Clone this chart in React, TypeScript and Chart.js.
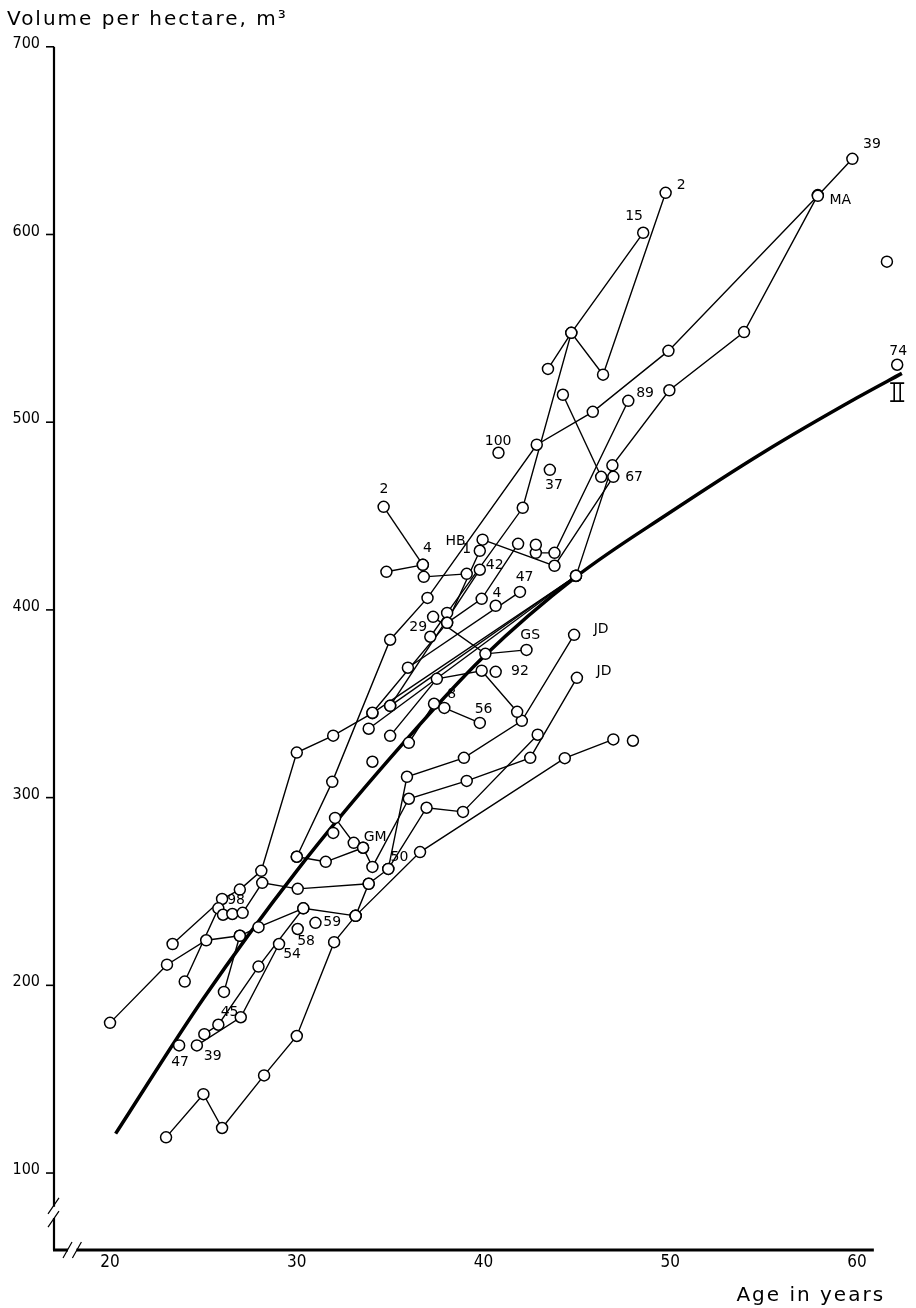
import React, { useEffect, useRef } from "react";
import { Chart, registerables } from "chart.js";
Chart.register(...registerables);

type P = [number, number];

// ---- data: [age in years, volume per hectare m3] ----
const seriesBottom: P[] = [[23.0, 119], [25.0, 142], [26.0, 124], [28.25, 152], [30.0, 173], [32.0, 223], [33.15, 237], [36.6, 271], [44.35, 321], [46.95, 331]];
const series39: P[] = [[24.65, 168], [27.0, 183], [29.05, 222]];
const series45: P[] = [[25.05, 174], [25.8, 179], [27.95, 210], [30.35, 241], [33.15, 237]];
const seriesA: P[] = [[20.0, 180], [23.05, 211], [25.15, 224], [26.95, 226.4], [27.95, 231], [30.35, 241]];
const seriesMA: P[] = [[23.35, 222], [26.0, 246], [26.95, 251], [28.1, 261], [30.0, 324], [31.95, 333], [34.05, 345], [44.95, 418], [46.9, 477], [49.95, 517], [53.95, 548], [57.9, 621]];
const series4low: P[] = [[24.0, 202], [25.8, 241], [26.05, 237.6], [26.55, 238], [27.1, 238.6], [28.15, 254.6], [30.05, 251.4], [33.85, 254.1]];
const series15low: P[] = [[26.1, 196.5], [26.95, 226.4]];
const seriesGM: P[] = [[30.0, 268.5], [31.55, 265.8], [33.55, 273.3], [34.05, 263.1], [36.0, 299.4], [39.1, 308.9], [42.5, 321.2], [45.0, 363.8]];
const seriesGM2: P[] = [[32.05, 289.2], [33.05, 275.9], [33.55, 273.3]];
const series50: P[] = [[33.15, 237], [33.85, 254.1], [34.9, 262], [35.9, 311.1], [38.95, 321.2], [42.05, 340.9], [44.85, 386.7]];
const seriesMid2: P[] = [[34.9, 262], [36.95, 294.6], [38.9, 292.4], [42.9, 333.5]];
const seriesTop39: P[] = [[30.0, 268.5], [31.9, 308.4], [35.0, 384.1], [37.0, 406.4], [42.85, 488], [45.85, 505.5], [49.9, 538], [57.9, 620.6], [59.75, 640.3]];
const series92: P[] = [[35.0, 332.9], [37.5, 363.3], [39.9, 367.6], [41.8, 345.7]];
const series56: P[] = [[36.0, 329.2], [37.35, 350], [37.9, 347.8], [39.8, 339.8]];
const series2top: P[] = [[37.15, 385.7], [38.05, 398.4], [42.1, 454.4], [44.7, 547.6], [46.4, 525.3], [49.75, 622.2]];
const series15: P[] = [[43.45, 528.4], [44.7, 547.6], [48.55, 600.9]];
const seriesGS: P[] = [[37.3, 396.3], [40.1, 376.6], [42.3, 378.7]];
const seriesHB: P[] = [[39.95, 437.4], [43.8, 423.5], [46.95, 470.9]];
const series89: P[] = [[42.8, 430.4], [43.8, 430.4], [47.75, 511.4]];
const series47: P[] = [[35.95, 369.2], [41.95, 409.6]];
const series1: P[] = [[34.05, 345.2], [38.05, 393.1], [39.8, 431.5]];
const series42: P[] = [[35.0, 348.9], [39.8, 421.4]];
const seriesB3: P[] = [[33.85, 336.7], [44.95, 418.2]];
const seriesB2: P[] = [[35.0, 348.9], [44.95, 418.2]];
const seriesX: P[] = [[38.05, 393.1], [39.9, 405.9], [41.85, 435.2]];
const series2low: P[] = [[34.65, 454.9], [36.75, 424]];
const series4: P[] = [[34.8, 420.3], [36.75, 424]];
const series4b: P[] = [[36.8, 417.6], [39.1, 419.2]];
const series67: P[] = [[44.25, 514.6], [46.3, 470.9]];

const singlePoints: P[] = [[48.0, 330.3], [23.7, 168], [30.05, 230], [31.0, 233.3], [34.05, 319.1], [40.65, 367], [40.8, 483.7], [43.55, 474.6], [61.6, 585.5], [62.15, 530.6], [40.65, 402.2], [42.8, 434.7], [31.95, 281.2]];

// site class II reference curve
const curveII: P[] = [[20.3, 121], [25, 193], [30, 261], [35, 321], [40, 375], [45, 418], [50, 452], [55, 484], [60, 513], [62.4, 526]];

const ageTicks = [20, 30, 40, 50, 60];
const volTicks = [100, 200, 300, 400, 500, 600, 700];

const labelTexts = ["98", "45", "39", "47", "54", "58", "59", "GM", "50", "8", "56", "92", "GS", "JD", "JD", "29", "4", "42", "1", "HB", "4", "2", "47", "100", "37", "67", "89", "15", "2", "MA", "39", "74"];
const labelAges = [26.75, 26.4, 25.5, 23.75, 29.75, 30.5, 31.9, 34.2, 35.5, 38.3, 40.0, 41.95, 42.5, 46.3, 46.45, 36.5, 40.72, 40.6, 39.1, 38.5, 37.0, 34.67, 42.2, 40.78, 43.77, 48.06, 48.65, 48.06, 50.58, 59.1, 60.8, 62.2];
const labelVols = [245.5, 185.7, 162, 158.7, 216.3, 223.2, 233.3, 279, 268, 354.8, 346.8, 367, 386.7, 389.9, 367, 390.5, 408.6, 423.5, 432, 436.3, 432.6, 464, 417.6, 490, 466.1, 470.4, 515.6, 609.4, 626, 618, 647.8, 537.5];

const allSeries: P[][] = [seriesBottom, series39, series45, seriesA, seriesMA, series4low, series15low, seriesGM, seriesGM2, series50, seriesMid2, seriesTop39, series92, series56, series2top, series15, seriesGS, seriesHB, series89, series47, series1, series42, seriesB3, seriesB2, seriesX, series2low, series4, series4b, series67];

const NARROW = "'DejaVu Sans Condensed', 'Liberation Sans Narrow', 'DejaVu Sans', sans-serif";
const WIDE = "'DejaVu Sans', sans-serif";

const decor = {
  id: "decor",
  afterDatasetsDraw(chart: any) {
    const ctx = chart.ctx;
    const xs = chart.scales.x;
    const ys = chart.scales.y;
    ctx.save();
    ctx.strokeStyle = "#000";
    ctx.fillStyle = "#000";
    ctx.lineCap = "butt";

    const ax = xs.getPixelForValue(17);
    const yTop = ys.getPixelForValue(700);
    const yBot = ys.getPixelForValue(59);
    const yBrkA = ys.getPixelForValue(82);
    const yBrkB = ys.getPixelForValue(76);

    // y axis with break
    ctx.lineWidth = 2.2;
    ctx.beginPath();
    ctx.moveTo(ax, yTop);
    ctx.lineTo(ax, yBrkA);
    ctx.moveTo(ax, yBrkB);
    ctx.lineTo(ax, yBot);
    ctx.stroke();
    ctx.lineWidth = 1.2;
    ctx.beginPath();
    ctx.moveTo(ax - 6, yBrkA + 7);
    ctx.lineTo(ax + 5, yBrkA - 9);
    ctx.moveTo(ax - 6, yBrkB + 9);
    ctx.lineTo(ax + 5, yBrkB - 7);
    ctx.stroke();

    // x axis with break
    const xBrkA = xs.getPixelForValue(17.75);
    const xBrkB = xs.getPixelForValue(18.2);
    const xEnd = xs.getPixelForValue(60.9);
    ctx.lineWidth = 2.8;
    ctx.beginPath();
    ctx.moveTo(ax - 1, yBot);
    ctx.lineTo(xBrkA, yBot);
    ctx.moveTo(xBrkB, yBot);
    ctx.lineTo(xEnd, yBot);
    ctx.stroke();
    ctx.lineWidth = 1.2;
    ctx.beginPath();
    ctx.moveTo(xBrkA - 5, yBot + 8);
    ctx.lineTo(xBrkA + 4, yBot - 8);
    ctx.moveTo(xBrkB - 4, yBot + 8);
    ctx.lineTo(xBrkB + 5, yBot - 8);
    ctx.stroke();

    // y ticks and labels
    ctx.lineWidth = 1.6;
    ctx.font = `16px ${NARROW}`;
    ctx.textAlign = "right";
    ctx.textBaseline = "middle";
    volTicks.forEach((v) => {
      const py = ys.getPixelForValue(v);
      ctx.beginPath();
      ctx.moveTo(ax - 8, py);
      ctx.lineTo(ax, py);
      ctx.stroke();
      ctx.fillText(String(v), ax - 14, py - 3);
    });

    // x tick labels
    ctx.textAlign = "center";
    ctx.font = `17px ${NARROW}`;
    ageTicks.forEach((a) => {
      ctx.fillText(String(a), xs.getPixelForValue(a), yBot + 13);
    });

    // axis titles (wide technical lettering)
    ctx.font = `20px ${WIDE}`;
    try { (ctx as any).letterSpacing = "2px"; } catch (e) {}
    ctx.textAlign = "left";
    ctx.fillText("Volume per hectare, m\u00B3", 7, 20);
    ctx.textAlign = "right";
    ctx.fillText("Age in years", xs.getPixelForValue(61.5), yBot + 46);
    try { (ctx as any).letterSpacing = "0px"; } catch (e) {}

    // point labels
    ctx.font = `14px ${WIDE}`;
    ctx.textAlign = "center";
    labelTexts.forEach((t, i) => {
      ctx.fillText(t, xs.getPixelForValue(labelAges[i]), ys.getPixelForValue(labelVols[i]));
    });

    // curve label II
    const lx = xs.getPixelForValue(62.15);
    const ly = ys.getPixelForValue(516);
    ctx.lineWidth = 1.6;
    ctx.beginPath();
    ctx.moveTo(lx - 7, ly - 9);
    ctx.lineTo(lx + 7, ly - 9);
    ctx.moveTo(lx - 7, ly + 9);
    ctx.lineTo(lx + 7, ly + 9);
    ctx.moveTo(lx - 3, ly - 9);
    ctx.lineTo(lx - 3, ly + 9);
    ctx.moveTo(lx + 3, ly - 9);
    ctx.lineTo(lx + 3, ly + 9);
    ctx.stroke();

    ctx.restore();
  },
};

export default function App() {
  const ref = useRef<HTMLCanvasElement>(null);
  useEffect(() => {
    if (!ref.current) return;
    const toXY = (s: P[]) => s.map(([a, v]) => ({ x: a, y: v }));
    const lineSets = allSeries.map((s) => ({
      data: toXY(s),
      showLine: true,
      borderColor: "#000",
      borderWidth: 1.4,
      pointRadius: 0,
      tension: 0,
      order: 2,
    }));
    const allPts: P[] = [];
    allSeries.forEach((s) => s.forEach((p) => allPts.push(p)));
    singlePoints.forEach((p) => allPts.push(p));
    const chart = new Chart(ref.current, {
      type: "scatter",
      data: {
        datasets: [
          ...lineSets,
          {
            data: toXY(curveII),
            showLine: true,
            borderColor: "#000",
            borderWidth: 3.5,
            pointRadius: 0,
            cubicInterpolationMode: "monotone",
            order: 3,
          } as any,
          {
            data: toXY(allPts),
            showLine: false,
            pointRadius: 5.5,
            pointBackgroundColor: "#fff",
            pointBorderColor: "#000",
            pointBorderWidth: 1.5,
            order: 1,
          },
        ],
      },
      options: {
        animation: false,
        responsive: false,
        devicePixelRatio: 1,
        layout: { padding: { left: 54, right: 10.4, top: 28, bottom: 58 } },
        scales: {
          x: { type: "linear", min: 17, max: 62.6, display: false },
          y: { type: "linear", min: 59, max: 710, display: false },
        },
        plugins: { legend: { display: false }, tooltip: { enabled: false } },
        events: [],
      },
      plugins: [decor],
    });
    return () => chart.destroy();
  }, []);
  return (
    <div style={{ position: "absolute", left: 0, top: 0, width: 916, height: 1308, background: "#fff" }}>
      <canvas ref={ref} width={916} height={1308} style={{ display: "block" }} />
    </div>
  );
}
